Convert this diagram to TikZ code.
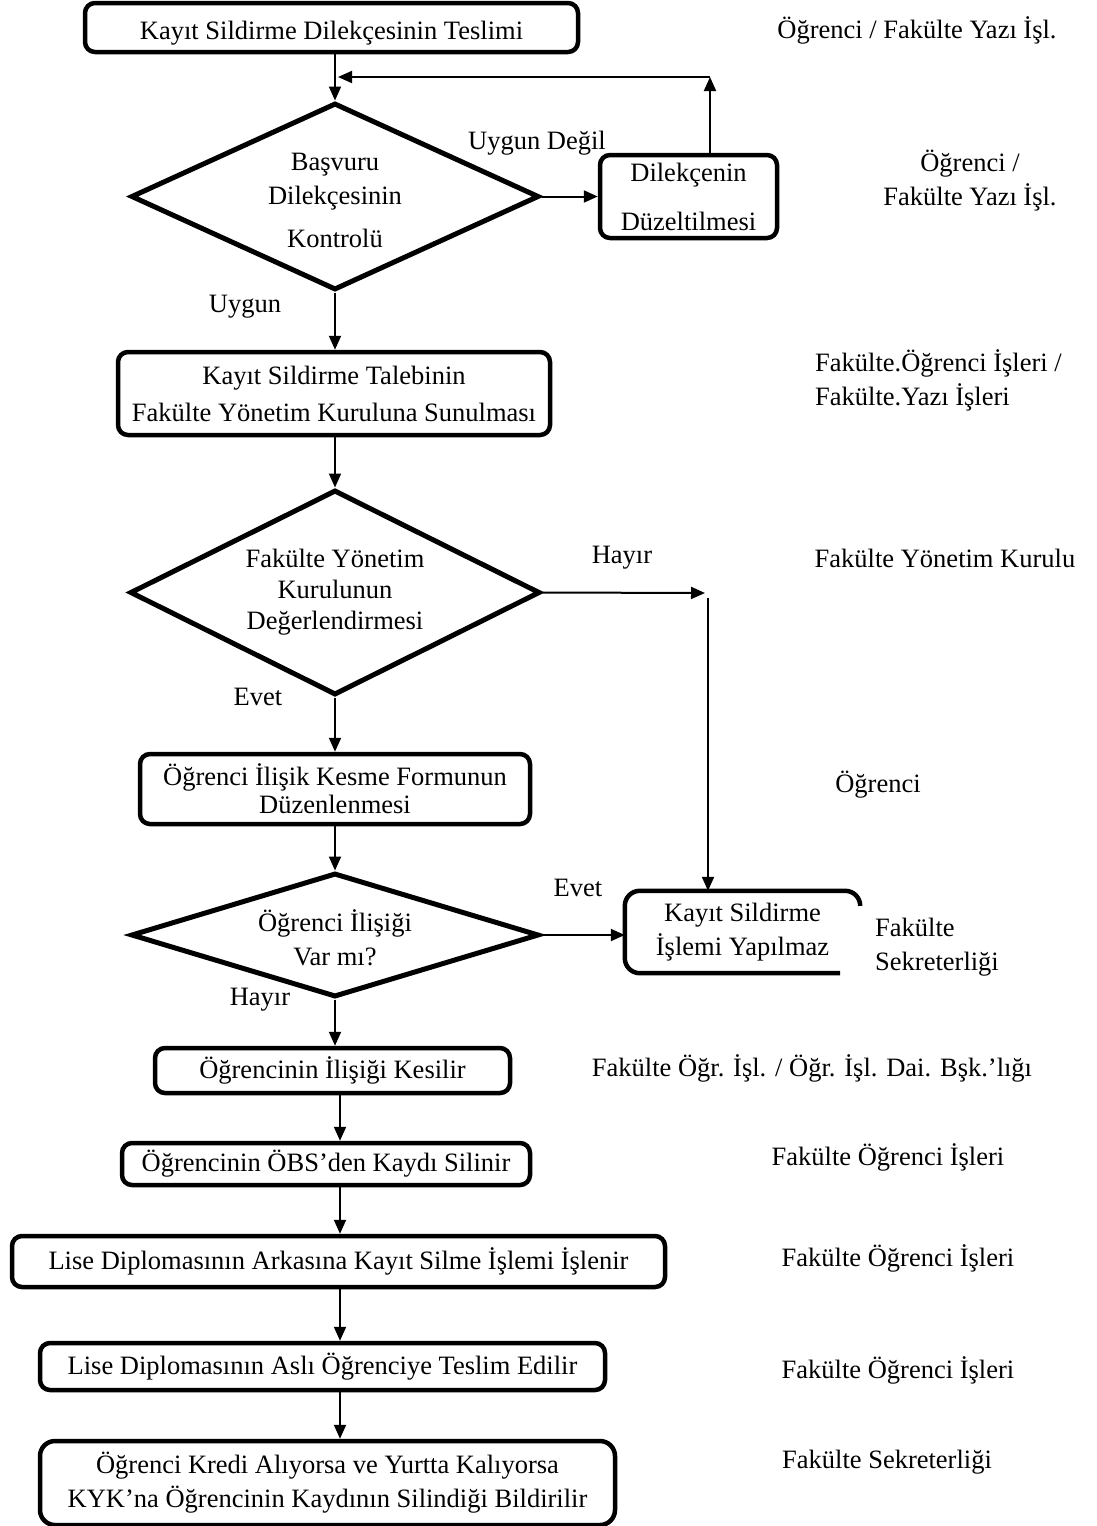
\documentclass[tikz,border=0pt]{standalone}
\usepackage{fontspec}
\setmainfont{Liberation Serif}
\usetikzlibrary{shapes.geometric,arrows.meta}

\tikzset{
	kutu/.style={draw, line width=4.5, rounded corners=10, align=center, inner sep=0pt},
	karar/.style={draw, diamond, line width=5, inner sep=0pt},
	ok/.style={line width=2, -{Triangle[length=14,width=12]}},
	etiket/.style={align=center, inner sep=0pt},
}

\begin{document}
\begin{tikzpicture}[x=1pt, y=-1pt, font=\fontsize{26.5}{34}\selectfont]
\useasboundingbox (0,0) rectangle (1097,1526);
% eksenler
\coordinate (eksen) at (335,0);
\coordinate (eksenalt) at (340,0);
% kutular
\node[kutu, minimum width=493, minimum height=49, text height=30, text depth=7] (b1) at (331.5,27.5) {Kayıt Sildirme Dilekçesinin Teslimi};
\node[karar, minimum width=408, minimum height=187,
	label={[etiket, yshift=-4]center:Başvuru\\Dilekçesinin\\[9pt]Kontrolü}] (d1) at (335,196.5) {};
\node[kutu, minimum width=177, minimum height=83] (b2) at (688.5,196.5) {Dilekçenin\\[15pt]Düzeltilmesi};
\node[kutu, minimum width=432, minimum height=83, font=\fontsize{26.5}{37}\selectfont] (b3) at (334,393.5) {Kayıt Sildirme Talebinin\\Fakülte Yönetim Kuruluna Sunulması};
\node[karar, minimum width=410, minimum height=205,
	label={[etiket, font=\fontsize{26.5}{31}\selectfont]center:Fakülte Yönetim\\Kurulunun\\Değerlendirmesi}] (d2) at (335,592.5) {};
\node[kutu, minimum width=390, minimum height=70, font=\fontsize{26.5}{28}\selectfont] (b4) at (335,789) {Öğrenci İlişik Kesme Formunun\\Düzenlenmesi};
\node[karar, minimum width=408, minimum height=124,
	label={[etiket, yshift=-3, font=\fontsize{26.5}{34}\selectfont]center:Öğrenci İlişiği\\Var mı?}] (d3) at (335,935) {};
\node[etiket, minimum width=235, minimum height=82] (k5) at (742.5,932) {Kayıt Sildirme\\İşlemi Yapılmaz};
\node[kutu, minimum width=355, minimum height=45] (b6) at (332.5,1070.5) {Öğrencinin İlişiği Kesilir};
\node[kutu, minimum width=408, minimum height=42] (b7) at (326,1164) {Öğrencinin ÖBS’den Kaydı Silinir};
\node[kutu, minimum width=653, minimum height=51] (b8) at (338.5,1261.5) {Lise Diplomasının Arkasına Kayıt Silme İşlemi İşlenir};
\node[kutu, minimum width=565, minimum height=47] (b9) at (322.5,1366.5) {Lise Diplomasının Aslı Öğrenciye Teslim Edilir};
\node[kutu, minimum width=575, minimum height=84, rounded corners=15] (b10) at (327.5,1483) {Öğrenci Kredi Alıyorsa ve Yurtta Kalıyorsa\\KYK’na Öğrencinin Kaydının Silindiği Bildirilir};
% yarim cerceve
\draw[line width=4.5, rounded corners=15] ([xshift=-20]k5.south east) -- (k5.south west) -- (k5.north west) -- (k5.north east) -- ([yshift=-14]k5.north east);
% oklar
\draw[ok] (b1.south -| eksen) -- (d1.north);
\coordinate (geri) at (710,77);
\draw[ok] (b2.north -| geri) -- (geri);
\draw[ok] (geri) -- ([xshift=3]geri -| eksen);
\draw[ok] (d1.east) -- (b2.west);
\draw[ok] (d1.south) -- (d1.south |- b3.north);
\draw[ok] (b3.south -| eksen) -- (d2.north);
\coordinate (hayir) at (705,593);
\coordinate (ust) at (708,598);
\draw[ok] (d2.east) -- (hayir);
\draw[ok] (ust) -- (ust |- k5.north);
\draw[ok] (d2.south) -- (b4.north);
\draw[ok] (b4.south) -- (d3.north);
\draw[ok] (d3.east) -- (d3.east -| k5.west);
\draw[ok] (d3.south) -- (d3.south |- b6.north);
\draw[ok] (b6.south -| eksenalt) -- (b7.north -| eksenalt);
\draw[ok] (b7.south -| eksenalt) -- (b8.north -| eksenalt);
\draw[ok] (b8.south -| eksenalt) -- (b9.north -| eksenalt);
\draw[ok] (b9.south -| eksenalt) -- (b10.north -| eksenalt);
% dal etiketleri
\node[etiket] (ld1) at (537,143) {Uygun Değil};
\node[etiket] (ld2) at (245,307) {Uygun};
\node[etiket] (ld3) at (622,558) {Hayır};
\node[etiket] (ld4) at (258,697) {Evet};
\node[etiket] (ld5) at (578,888) {Evet};
\node[etiket] (ld6) at (260,1000) {Hayır};
% sorumlular
\node[etiket] (s1) at (917,30) {Öğrenci / Fakülte Yazı İşl.};
\node[etiket] (s2) at (970,181) {Öğrenci /\\Fakülte Yazı İşl.};
\node[etiket, align=left, anchor=west] (s3) at (815,380) {Fakülte.Öğrenci İşleri /\\Fakülte.Yazı İşleri};
\node[etiket] (s4) at (945,558) {Fakülte Yönetim Kurulu};
\node[etiket] (s5) at (878,785) {Öğrenci};
\node[etiket, align=left, anchor=west] (s6) at (875,947) {Fakülte\\Sekreterliği};
\node[etiket] (s7) at (812,1068) {Fakülte Öğr. İşl. / Öğr. İşl. Dai. Bşk.’lığı};
\node[etiket] (s8) at (888,1157) {Fakülte Öğrenci İşleri};
\node[etiket] (s9) at (898,1258) {Fakülte Öğrenci İşleri};
\node[etiket] (s10) at (898,1370) {Fakülte Öğrenci İşleri};
\node[etiket] (s11) at (887,1462) {Fakülte Sekreterliği};
\end{tikzpicture}
\end{document}
